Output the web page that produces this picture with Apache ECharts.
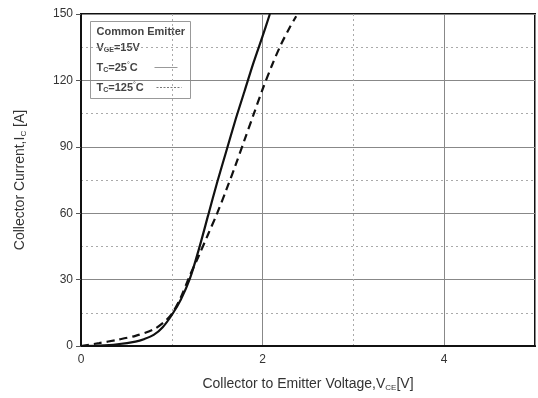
<!DOCTYPE html>
<html>
<head>
<meta charset="utf-8">
<script src="https://cdn.jsdelivr.net/npm/echarts@6/dist/echarts.min.js"></script>
<style>
  html, body { margin: 0; padding: 0; background: #fff; }
  #chart { width: 538px; height: 398px; }
</style>
</head>
<body>
<div id="chart"></div>
<script>
// Tc = 25°C (solid), [Vce, Ic]
var vce25 = [0, 0.2, 0.4, 0.6, 0.7, 0.8, 0.9, 1.0, 1.1, 1.2, 1.3, 1.4, 1.5, 1.6, 1.7, 1.8, 1.9, 2.0, 2.08];
var ic25  = [0, 0.2, 0.8, 2, 3.2, 5, 8.5, 14, 21, 30.5, 44, 59, 74, 88, 102, 115, 128, 140, 150];
// Tc = 125°C (dashed)
var vce125 = [0, 0.2, 0.4, 0.6, 0.8, 0.92, 1.0, 1.1, 1.2, 1.3, 1.4, 1.5, 1.6, 1.7, 1.8, 1.9, 2.0, 2.1, 2.2, 2.3, 2.37];
var ic125  = [0, 1.3, 2.8, 4.6, 7.5, 11, 14.5, 22, 32, 41, 50.5, 60, 70.5, 81.5, 93, 104.5, 116, 126.5, 136, 144, 149];

var xTicks = [0, 2, 4];
var yTicks = [0, 30, 60, 90, 120, 150];

function pairs(xs, ys) {
    var out = [];
    for (var i = 0; i < xs.length; i++) out.push([xs[i], ys[i]]);
    return out;
}

var chart = echarts.init(document.getElementById('chart'));
var font = 'Liberation Sans, Arial, sans-serif';
var txt = '#333';
var lgTxt = '#444';

var legendX = 90, legendY = 21;
var subStyle = { fontSize: 7, fill: lgTxt, verticalAlign: 'bottom', padding: [5, 0, 0, 0], fontWeight: 'bold' };
var degStyle = { fontSize: 7, fill: lgTxt, verticalAlign: 'top' };

var option = {
    animation: false,
    grid: {
        left: 81, right: 3, top: 14, bottom: 52,
        show: true, borderColor: '#111', borderWidth: 2, backgroundColor: 'transparent'
    },
    xAxis: [{
        // minor dotted lines at odd volts
        type: 'value', min: 0, max: 5, interval: 1, position: 'bottom',
        axisLine: { show: false }, axisTick: { show: false }, axisLabel: { show: false },
        splitLine: { show: true, lineStyle: { color: '#aaa', type: [2, 3], width: 1 } }
    }, {
        type: 'value', min: 0, max: 5, interval: 2, position: 'bottom',
        axisLine: { show: true, onZero: false, lineStyle: { color: '#111', width: 2 } },
        axisTick: { show: false },
        axisLabel: {
            color: txt, fontFamily: font, fontSize: 12, margin: 8,
            formatter: function (v) { return xTicks.indexOf(v) >= 0 ? String(v) : ''; }
        },
        splitLine: { show: true, lineStyle: { color: '#888', width: 1 } },
        name: 'Collector to Emitter Voltage,V{s|CE}[V]',
        nameLocation: 'middle', nameGap: 30,
        nameTextStyle: {
            color: txt, fontFamily: font, fontSize: 14,
            rich: { s: { fontSize: 8, verticalAlign: 'bottom', padding: [8, 0, 0, 0], color: txt, fontFamily: font } }
        }
    }],
    yAxis: {
        type: 'value', min: 0, max: 150, interval: 30,
        axisLine: { show: true, onZero: false, lineStyle: { color: '#111', width: 2 } },
        axisTick: { show: true, length: 5, lineStyle: { color: '#555' } },
        axisLabel: {
            color: txt, fontFamily: font, fontSize: 12, margin: 8,
            formatter: function (v) { return yTicks.indexOf(v) >= 0 ? String(v) : ''; }
        },
        splitLine: { show: true, lineStyle: { color: '#888', width: 1 } },
        minorTick: { show: false, splitNumber: 2 },
        minorSplitLine: { show: true, lineStyle: { color: '#aaa', type: [2, 3], width: 1 } },
        name: 'Collector Current,I{s|C} [A]',
        nameLocation: 'middle', nameGap: 53, nameRotate: 90,
        nameTextStyle: {
            color: txt, fontFamily: font, fontSize: 14,
            rich: { s: { fontSize: 8, verticalAlign: 'bottom', padding: [8, 0, 0, 0], color: txt, fontFamily: font } }
        }
    },
    series: [{
        name: 'Tc=25°C', type: 'line', xAxisIndex: 1, smooth: 0.3, showSymbol: false,
        data: pairs(vce25, ic25), clip: true,
        lineStyle: { color: '#111', width: 2.2 }
    }, {
        name: 'Tc=125°C', type: 'line', xAxisIndex: 1, smooth: 0.3, showSymbol: false,
        data: pairs(vce125, ic125), clip: true,
        lineStyle: { color: '#111', width: 2.2, type: [8, 5] }
    }],
    graphic: [{
        type: 'group', left: legendX, top: legendY,
        children: [{
            type: 'rect', shape: { x: 0, y: 0, width: 100, height: 77 },
            style: { fill: '#fff', stroke: '#999', lineWidth: 1 }
        }, {
            type: 'text', x: 6, y: 5,
            style: { text: 'Common Emitter', fill: lgTxt, font: 'bold 11px ' + font }
        }, {
            type: 'text', x: 6, y: 20,
            style: {
                text: 'V{s|GE}=15V', fill: lgTxt, font: 'bold 11px ' + font,
                rich: { s: subStyle }
            }
        }, {
            type: 'text', x: 6, y: 40,
            style: {
                text: 'T{s|C}=25{d|°}C', fill: lgTxt, font: 'bold 11px ' + font,
                rich: { s: subStyle, d: degStyle }
            }
        }, {
            type: 'line', shape: { x1: 64, y1: 46, x2: 87, y2: 46 },
            style: { stroke: '#999', lineWidth: 1 }
        }, {
            type: 'text', x: 6, y: 60,
            style: {
                text: 'T{s|C}=125{d|°}C', fill: lgTxt, font: 'bold 11px ' + font,
                rich: { s: subStyle, d: degStyle }
            }
        }, {
            type: 'line', shape: { x1: 66, y1: 66, x2: 91, y2: 66 },
            style: { stroke: '#777', lineWidth: 1, lineDash: [2, 1.5] }
        }]
    }]
};

chart.setOption(option);
</script>
</body>
</html>
